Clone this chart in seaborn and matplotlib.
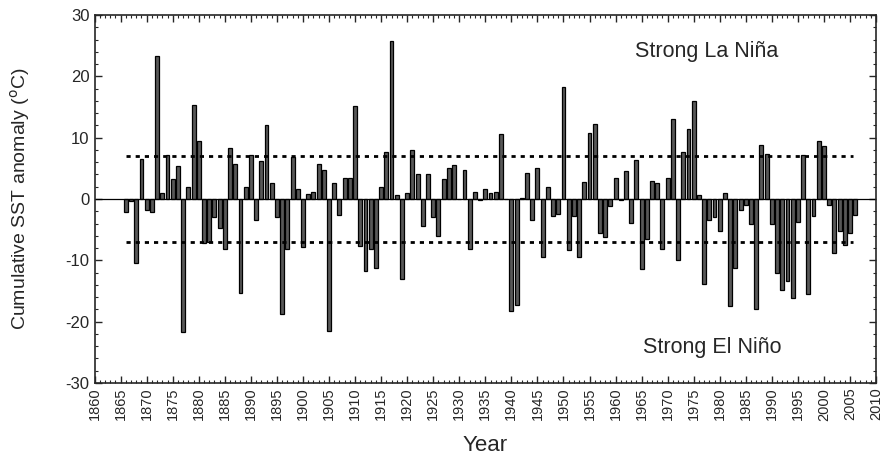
import numpy as np
import pandas as pd
import seaborn as sns
import matplotlib.pyplot as plt
from matplotlib.ticker import MultipleLocator

years = list(range(1866, 2007))
anomaly = [
    -2.1, -0.3, -10.5, 6.6, -1.8, -2.1, 23.3, 0.9, 7.2, 3.2,      # 1866-1875
    5.4, -21.7, 2.0, 15.4, 9.4, -7.2, -7.0, -2.9, -4.8, -8.1,     # 1876-1885
    8.4, 5.7, -15.3, 2.0, 7.2, -3.4, 6.2, 12.1, 2.6, -3.0,        # 1886-1895
    -18.7, -8.1, 6.9, 1.7, -7.8, 0.8, 1.1, 5.7, 4.7, -21.5,       # 1896-1905
    2.6, -2.6, 3.4, 3.4, 15.2, -7.7, -11.7, -8.1, -11.2, 2.0,     # 1906-1915
    7.6, 25.8, 0.7, -13.1, 1.0, 8.0, 4.0, -4.4, 4.0, -2.9,        # 1916-1925
    -6.0, 3.2, 5.1, 5.6, 0.0, 4.7, -8.1, 1.1, -0.2, 1.6,          # 1926-1935
    0.9, 1.1, 10.6, 0.0, -18.3, -17.3, 0.2, 4.2, -3.4, 5.0,       # 1936-1945
    -9.5, 1.9, -2.7, -2.5, 18.2, -8.3, -2.7, -9.4, 2.8, 10.8,     # 1946-1955
    12.2, -5.5, -6.2, -1.1, 3.5, -0.2, 4.6, -3.9, 6.4, -11.5,     # 1956-1965
    -6.5, 3.0, 2.6, -8.1, 3.4, 13.0, -9.9, 7.6, 11.5, 16.0,       # 1966-1975
    0.7, -13.8, -3.5, -3.0, -5.2, 0.9, -17.5, -11.3, -1.8, -1.0,  # 1976-1985
    -4.0, -17.9, 8.8, 7.3, -4.0, -12.1, -14.8, -13.3, -16.2, -3.8,  # 1986-1995
    7.2, -15.5, -2.8, 9.5, 8.7, -1.0, -8.8, -5.2, -7.5, -5.5,     # 1996-2005
    -2.6,                                                         # 2006
]
threshold = 7
df = pd.DataFrame({"Year": years, "Anomaly": anomaly})

sns.set_style("ticks")
plt.rcParams['font.family'] = ['Liberation Sans', 'DejaVu Sans']
plt.rcParams['axes.unicode_minus'] = False

fig = plt.figure(figsize=(8.84, 4.58), dpi=100)
ax = fig.add_axes([0.107, 0.164, 0.884, 0.803])

sns.barplot(data=df, x="Year", y="Anomaly", native_scale=True, width=0.75,
            color="#585858", saturation=1, edgecolor="black", linewidth=0.9, ax=ax)

ax.axhline(0, color="black", lw=0.9)
ax.hlines([threshold, -threshold], 1866, 2005.5, colors="black",
          linestyles=(0, (1.5, 1.8)), lw=2.0)

ax.text(1977.5, 24, "Strong La Niña", fontsize=15.5, ha="center", va="center")
ax.text(1978.5, -24.3, "Strong El Niño", fontsize=15.5, ha="center", va="center")

ax.set_xlim(1860, 2010)
ax.set_ylim(-30, 30)
ax.xaxis.set_major_locator(MultipleLocator(5))
ax.xaxis.set_minor_locator(MultipleLocator(1))
ax.yaxis.set_major_locator(MultipleLocator(10))
ax.yaxis.set_minor_locator(MultipleLocator(2))
ax.tick_params(which="both", direction="in", top=True, right=True)
ax.tick_params(which="major", length=5, width=1)
ax.tick_params(which="minor", length=2.5, width=0.8)
ax.tick_params(axis="x", labelrotation=90, labelsize=10.5)
ax.tick_params(axis="y", labelsize=12)
for s in ax.spines.values():
    s.set_linewidth(1.2)

ax.set_xlabel("Year", fontsize=16, labelpad=10)
ax.set_ylabel("Cumulative SST anomaly ($^{\\mathrm{o}}$C)", fontsize=14, labelpad=24)

fig.savefig("out.png", dpi=100)
